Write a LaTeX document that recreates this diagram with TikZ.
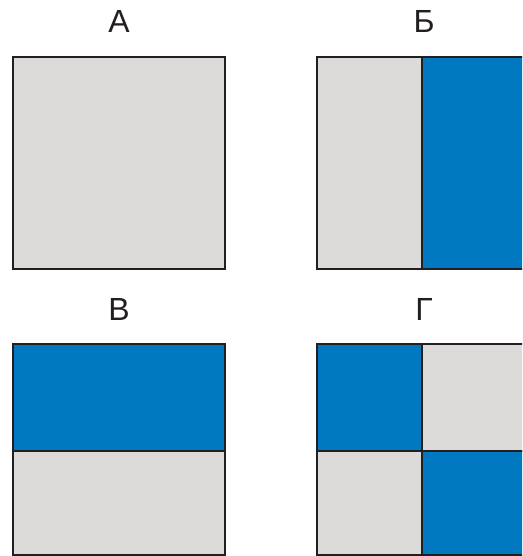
\documentclass[tikz,border=0pt]{standalone}
\usepackage{fontspec}
\setmainfont{Liberation Sans}
\definecolor{cgrey}{HTML}{DCDBDA}
\definecolor{cblue}{HTML}{0079C0}
\definecolor{cline}{HTML}{231F20}
\tikzset{
  cell/.style={draw=cline, line width=2pt},
  lbl/.style={anchor=base, inner sep=0pt, font=\fontsize{32}{38}\selectfont, text=cline}
}
\begin{document}
\begin{tikzpicture}[x=1pt,y=-1pt]
\useasboundingbox (0,0) rectangle (522,556);
\clip (0,0) rectangle (522,556);
% A
\node[lbl] (la) at (119,33) {А};
\draw[cell, fill=cgrey] (13,57) rectangle (225,269);
% Б
\node[lbl] (lb) at (424,33) {Б};
\draw[cell, fill=cgrey] (317,57) rectangle (422,269);
\draw[cell, fill=cblue] (422,57) rectangle (529,269);
% В
\node[lbl] (lv) at (119,320) {В};
\draw[cell, fill=cblue] (13,344) rectangle (225,451);
\draw[cell, fill=cgrey] (13,451) rectangle (225,555);
% Г
\node[lbl] (lg) at (424,320) {Г};
\draw[cell, fill=cblue] (317,344) rectangle (422,451);
\draw[cell, fill=cgrey] (422,344) rectangle (529,451);
\draw[cell, fill=cgrey] (317,451) rectangle (422,555);
\draw[cell, fill=cblue] (422,451) rectangle (529,555);
\end{tikzpicture}
\end{document}
